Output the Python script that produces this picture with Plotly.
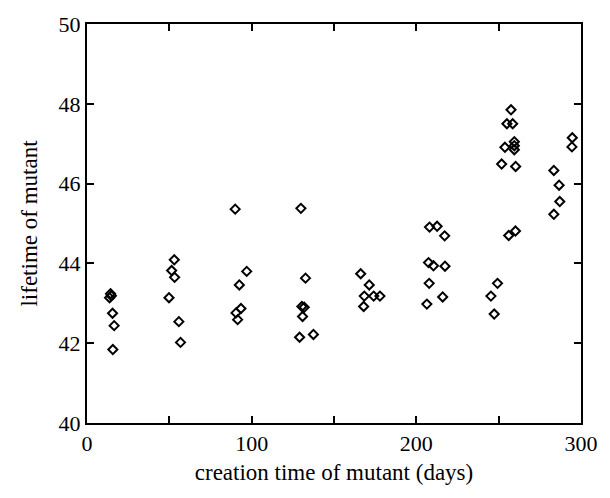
import plotly.graph_objects as go

# creation time (days) and lifetime of each mutant
creation_time = [
    14.3, 13.7, 14.8, 15.5, 16.5, 15.7,
    53.0, 51.4, 53.2, 49.8, 55.8, 56.8,
    90.0, 97.0, 92.5, 93.5, 90.5, 91.5,
    129.9, 132.7, 130.5, 131.9, 130.9, 129.1, 137.5,
    166.2, 171.4, 168.4, 174.1, 177.9, 168.0,
    208.0, 212.6, 217.2, 207.4, 210.4, 217.4, 207.8, 216.0, 206.4,
    245.3, 247.3, 249.3, 256.1, 260.2,
    257.5, 255.0, 258.5, 259.5, 259.5, 259.5, 253.8, 251.8, 260.3,
    294.7, 294.5, 283.5, 286.7, 287.1, 283.5,
]
lifetime = [
    43.24, 43.14, 43.19, 42.75, 42.44, 41.84,
    44.09, 43.82, 43.65, 43.14, 42.54, 42.02,
    45.36, 43.80, 43.46, 42.87, 42.76, 42.59,
    45.38, 43.63, 42.92, 42.90, 42.67, 42.15, 42.22,
    43.74, 43.46, 43.18, 43.18, 43.18, 42.92,
    44.91, 44.93, 44.69, 44.02, 43.94, 43.93, 43.50, 43.16, 42.98,
    43.18, 42.73, 43.50, 44.70, 44.81,
    47.85, 47.50, 47.50, 47.05, 46.95, 46.85, 46.91, 46.49, 46.43,
    47.15, 46.92, 46.33, 45.96, 45.55, 45.23,
]

x_tickvals = [0, 50, 100, 150, 200, 250, 300]
x_ticktext = ["0", "", "100", "", "200", "", "300"]
y_tickvals = [40, 42, 44, 46, 48, 50]
y_ticktext = ["40", "42", "44", "46", "48", "50"]

font_family = "Liberation Serif, Times New Roman, serif"

fig = go.Figure()
fig.add_trace(go.Scatter(
    x=creation_time, y=lifetime, mode="markers",
    marker=dict(symbol="diamond-open", size=7, color="black",
                line=dict(width=2, color="black")),
    showlegend=False,
))

axis_common = dict(
    showline=True, linecolor="black", linewidth=2, mirror="allticks",
    ticks="inside", ticklen=7, tickwidth=2, tickcolor="black",
    showgrid=False, zeroline=False,
    tickfont=dict(family=font_family, size=22, color="black"),
)

fig.update_xaxes(
    range=[0, 300], tickmode="array", tickvals=x_tickvals, ticktext=x_ticktext,
    title=dict(text="creation time of mutant (days)",
               font=dict(family=font_family, size=23, color="black"), standoff=8),
    **axis_common,
)
fig.update_yaxes(
    range=[40, 50], tickmode="array", tickvals=y_tickvals, ticktext=y_ticktext,
    title=dict(text="lifetime of mutant",
               font=dict(family=font_family, size=23, color="black"), standoff=15),
    **axis_common,
)

fig.update_layout(
    width=610, height=498,
    margin=dict(l=87, r=21, t=18, b=75),
    paper_bgcolor="white", plot_bgcolor="white",
    font=dict(family=font_family, color="black"),
)

fig.write_html("out.html")
